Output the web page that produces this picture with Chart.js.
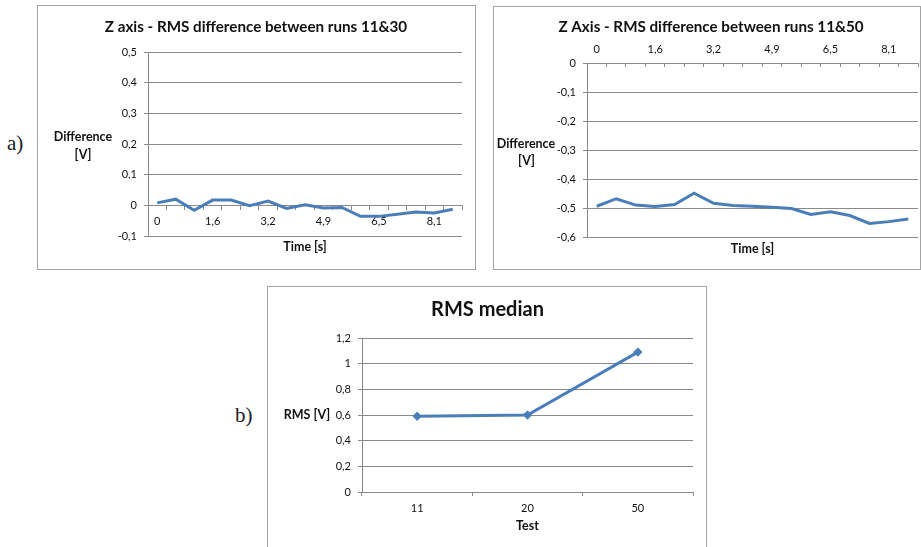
<!DOCTYPE html>
<html><head><meta charset="utf-8">
<script src="https://cdn.jsdelivr.net/npm/chart.js@4.4.1/dist/chart.umd.min.js"></script>
<style>
html,body{margin:0;padding:0;background:#fff;width:921px;height:547px;overflow:hidden;position:relative;font-family:Lato,sans-serif}
.box{position:absolute;border:1px solid #a3a3a3;box-sizing:border-box;background:#fff;overflow:hidden}
.box canvas{display:block}
.lbl{position:absolute;font-family:'Liberation Serif',serif;font-size:21px;color:#1b1b28;line-height:1}
</style></head><body>
<div class="lbl" style="left:7px;top:133px">a)</div>
<div class="lbl" style="left:235px;top:405px">b)</div>
<div class="box" style="left:37px;top:5px;width:439px;height:265px"><canvas id="c1" width="437" height="263"></canvas></div>
<div class="box" style="left:493px;top:6px;width:428px;height:264px"><canvas id="c2" width="426" height="262"></canvas></div>
<div class="box" style="left:267px;top:286px;width:440px;height:270px"><canvas id="c3" width="438" height="268"></canvas></div>
<script>
// ---- data ----
const times = ["0","0,5","1,1","1,6","2,2","2,7","3,2","3,8","4,3","4,9","5,4","5,9","6,5","7","7,6","8,1","8,6"];
const diff11_30 = [0.008, 0.020, -0.016, 0.017, 0.017, -0.001, 0.014, -0.010, 0.002, -0.009, -0.007, -0.036, -0.036, -0.029, -0.022, -0.025, -0.013];
const diff11_50 = [-0.494, -0.468, -0.490, -0.495, -0.488, -0.449, -0.484, -0.491, -0.494, -0.497, -0.502, -0.522, -0.513, -0.526, -0.553, -0.547, -0.538];
const tests = ["11","20","50"];
const rmsMedian = [0.59, 0.60, 1.09];

// ---- style ----
const AXIS = '#8a8a8a', GRID = '#8a8a8a', LINE = '#4a7ebb', TXT = '#111';
Chart.defaults.font.family = 'Lato';
Chart.defaults.font.size = 11;
Chart.defaults.color = TXT;

function fmt(v){ const r = Math.round(v*10)/10; return r === 0 ? '0' : String(r).replace('.', ','); }

function makeTexts(items){
  return {
    id:'texts',
    afterDraw(chart){
      const ctx = chart.ctx, a = chart.chartArea;
      ctx.save();
      ctx.fillStyle = TXT; ctx.textBaseline = 'middle'; ctx.textAlign = 'center';
      for (const t of items){
        ctx.font = t.font;
        const x = t.x === 'plot' ? (a.left + a.right) / 2 : t.x;
        ctx.fillText(t.text, x, t.y);
      }
      ctx.restore();
    }
  };
}
const TITLE = 'bold 15.2px Lato', AX = 'bold 12.5px Lato';
const base = {responsive:false, animation:false, events:[], plugins:{legend:{display:false}, tooltip:{enabled:false}}};

// ---- chart a1 ----
new Chart(document.getElementById('c1'), {
  type:'line',
  data:{labels:times, datasets:[{data:diff11_30, borderColor:LINE, borderWidth:3, pointRadius:0, tension:0, fill:false}]},
  options:Object.assign({}, base, {
    layout:{padding:{left:0, right:13, top:46, bottom:33}},
    scales:{
      x:{type:'category', position:{y:0}, offset:true,
         grid:{offset:true, drawOnChartArea:false, drawTicks:true, tickLength:4, color:AXIS},
         border:{display:true, color:AXIS},
         ticks:{autoSkip:false, maxRotation:0, padding:6, callback:(v,i)=> i%3===0 ? times[i] : ''},
         afterFit:s=>{ s.height = 0; }},
      y:{min:-0.1, max:0.5, ticks:{stepSize:0.1, padding:7, callback:fmt},
         grid:{color:GRID, tickLength:4}, border:{color:AXIS},
         afterFit:s=>{ s.width = 110; }}
    }
  }),
  plugins:[makeTexts([
    {text:'Z axis - RMS difference between runs 11&30', x:218, y:21, font:TITLE},
    {text:'Difference', x:45, y:131, font:AX},
    {text:'[V]', x:45, y:148.5, font:AX},
    {text:'Time [s]', x:'plot', y:241, font:AX}
  ])]
});

// ---- chart a2 ----
new Chart(document.getElementById('c2'), {
  type:'line',
  data:{labels:times, datasets:[{data:diff11_50, borderColor:LINE, borderWidth:3, pointRadius:0, tension:0, fill:false}]},
  options:Object.assign({}, base, {
    layout:{padding:{left:0, right:2, top:36, bottom:32}},
    scales:{
      x:{type:'category', position:'top', offset:true,
         grid:{offset:true, drawOnChartArea:false, drawTicks:true, tickLength:-4, color:AXIS},
         border:{display:true, color:AXIS},
         ticks:{autoSkip:false, maxRotation:0, padding:11.4, callback:(v,i)=> i%3===0 ? times[i] : ''},
         afterFit:s=>{ s.height = 20; }},
      y:{min:-0.6, max:0, ticks:{stepSize:0.1, padding:7, callback:fmt},
         grid:{color:GRID, tickLength:4}, border:{color:AXIS},
         afterFit:s=>{ s.width = 93; }}
    }
  }),
  plugins:[makeTexts([
    {text:'Z Axis - RMS difference between runs 11&50', x:217, y:20, font:TITLE},
    {text:'Difference', x:32, y:136.5, font:AX},
    {text:'[V]', x:32.5, y:154, font:AX},
    {text:'Time [s]', x:'plot', y:241.5, font:AX}
  ])]
});

// ---- chart b ----
new Chart(document.getElementById('c3'), {
  type:'line',
  data:{labels:tests, datasets:[{data:rmsMedian, borderColor:LINE, backgroundColor:LINE, borderWidth:3, pointRadius:4.2, pointStyle:'rectRot', pointBorderWidth:1, tension:0, fill:false}]},
  options:Object.assign({}, base, {
    layout:{padding:{left:0, right:13, top:51, bottom:35}},
    scales:{
      x:{type:'category', position:'bottom', offset:true,
         grid:{offset:true, drawOnChartArea:false, drawTicks:true, tickLength:4, color:AXIS},
         border:{display:true, color:AXIS},
         ticks:{autoSkip:false, maxRotation:0, padding:5.4},
         afterFit:s=>{ s.height = 28; }},
      y:{min:0, max:1.2, ticks:{stepSize:0.2, padding:7, callback:fmt},
         grid:{color:GRID, tickLength:4}, border:{color:AXIS},
         afterFit:s=>{ s.width = 94; }}
    }
  }),
  plugins:[makeTexts([
    {text:'RMS median', x:219.5, y:23, font:'bold 20px Lato'},
    {text:'RMS [V]', x:39, y:128, font:AX},
    {text:'Test', x:'plot', y:238.7, font:AX}
  ])]
});
</script>
</body></html>
